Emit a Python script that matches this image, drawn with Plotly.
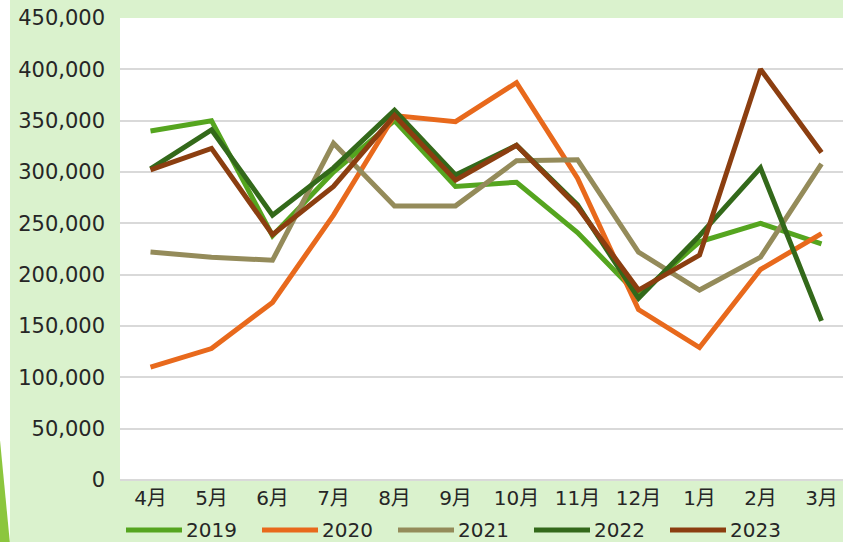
import plotly.graph_objects as go

months = ["4月", "5月", "6月", "7月", "8月", "9月", "10月", "11月", "12月", "1月", "2月", "3月"]
y2019 = [340000, 350000, 238000, 300000, 350000, 286000, 290000, 241000, 180000, 232000, 250000, 230000]
y2020 = [110000, 128000, 173000, 258000, 355000, 349000, 387000, 294000, 166000, 129000, 205000, 240000]
y2021 = [222000, 217000, 214000, 328000, 267000, 267000, 311000, 312000, 222000, 185000, 217000, 308000]
y2022 = [303000, 341000, 258000, 304000, 360000, 297000, 326000, 268000, 177000, 238000, 304000, 155000]
y2023 = [302000, 323000, 239000, 286000, 355000, 292000, 326000, 266000, 185000, 219000, 400000, 319000]
series_names = ["2019", "2020", "2021", "2022", "2023"]
series_values = [y2019, y2020, y2021, y2022, y2023]
colors = ["#55A51F", "#E8691C", "#948B5A", "#33691A", "#8B3E10"]

W, H = 843, 542
ML, MR, MT, MB = 120, 0, 18, 62
PW, PH = W - ML - MR, H - MT - MB


def px_x(p):
    return (p - ML) / PW


def px_y(p):
    return (H - MB - p) / PH


fig = go.Figure()
for name, vals, col in zip(series_names, series_values, colors):
    fig.add_trace(go.Scatter(
        x=list(range(len(months))), y=vals, name=name, mode="lines",
        line=dict(color=col, width=5), showlegend=False,
    ))

font_family = "DejaVu Sans, Noto Sans CJK JP, sans-serif"
text_color = "#262626"

shapes = [
    dict(type="rect", xref="paper", yref="paper", layer="below",
         x0=px_x(10), x1=px_x(W + 5), y0=px_y(H + 5), y1=px_y(-5),
         fillcolor="#DAF2CD", line=dict(width=0)),
    dict(type="rect", xref="paper", yref="paper", layer="below",
         x0=0, x1=1, y0=0, y1=1, fillcolor="white", line=dict(width=0)),
    dict(type="line", xref="paper", yref="paper", layer="below",
         x0=0, x1=1, y0=0, y1=0, line=dict(color="#D9D9D9", width=2)),
    dict(type="path", xref="paper", yref="paper", layer="above",
         path="M {} {} L {} {} L {} {} Z".format(px_x(-1), px_y(430), px_x(10), px_y(H + 2), px_x(-1), px_y(H + 2)),
         fillcolor="#8CC63E", line=dict(width=0)),
]
annotations = []
leg_y = 530
for i, (name, col) in enumerate(zip(series_names, colors)):
    x0 = 126 + i * 136
    shapes.append(dict(type="line", xref="paper", yref="paper", layer="above",
                       x0=px_x(x0), x1=px_x(x0 + 56), y0=px_y(leg_y), y1=px_y(leg_y),
                       line=dict(color=col, width=5)))
    annotations.append(dict(xref="paper", yref="paper", x=px_x(x0 + 58), y=px_y(leg_y),
                            xanchor="left", yanchor="middle", text=name, showarrow=False,
                            font=dict(size=20, color=text_color, family=font_family)))

fig.update_layout(
    width=W, height=H,
    margin=dict(l=ML, r=MR, t=MT, b=MB, pad=0),
    paper_bgcolor="white",
    plot_bgcolor="white",
    font=dict(family=font_family, size=20, color=text_color),
    showlegend=False,
    xaxis=dict(
        tickmode="array", tickvals=list(range(len(months))), ticktext=months,
        range=[-0.5, 11.5 - 9 / 61], showgrid=False, zeroline=False,
        showline=False, ticks="", ticklabelstandoff=4, automargin=False,
        tickfont=dict(size=20, color=text_color),
    ),
    yaxis=dict(
        range=[0, 450000], dtick=50000, tickformat=",",
        gridcolor="#D9D9D9", gridwidth=1.5, zeroline=False, showline=False,
        ticks="", ticklabelstandoff=14, automargin=False,
        tickfont=dict(size=21, color=text_color),
    ),
    shapes=shapes,
    annotations=annotations,
)

fig.write_html("out.html", config={"displayModeBar": False},
               post_script="document.body.style.margin='0';document.body.style.overflow='hidden';")
